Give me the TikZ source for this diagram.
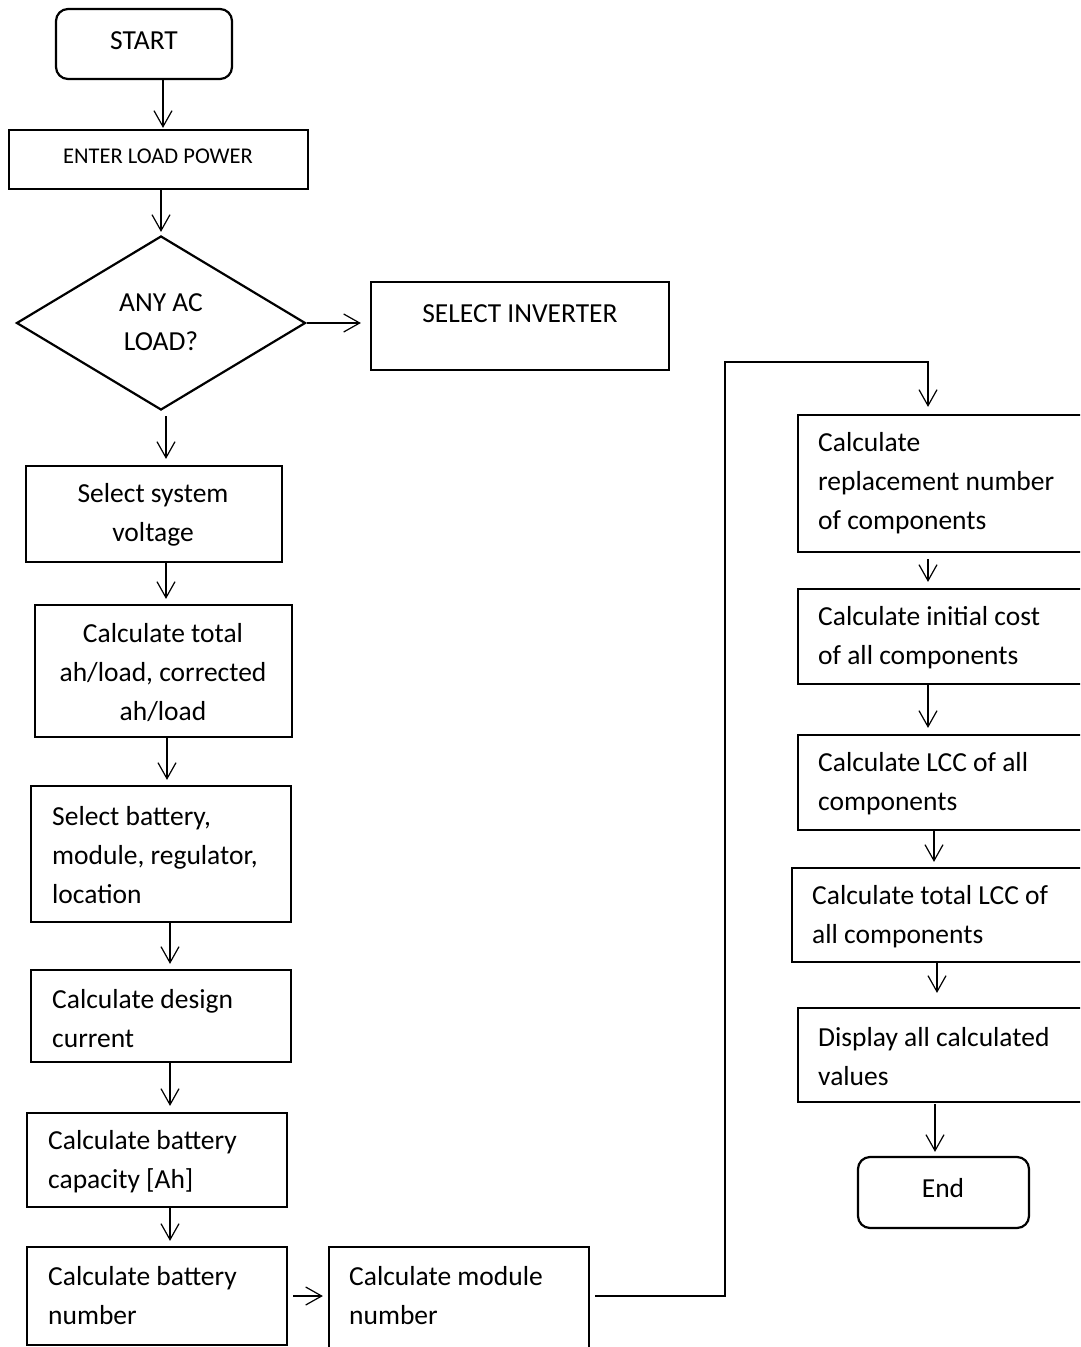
\documentclass[tikz,border=0pt]{standalone}
\usepackage{fontspec}
\setmainfont{Carlito}
\usetikzlibrary{arrows.meta,shapes.geometric}
\tikzset{
  box/.style={draw, line width=2.2pt, inner sep=0pt},
  term/.style={box, rounded corners=12pt},
  txt/.style={inner sep=0pt, font={\fontsize{27.5}{39}\selectfont}},
  ltxt/.style={txt, anchor=west, align=left},
  ctxt/.style={txt, align=center},
  arr/.style={draw, line width=1.2pt, -{Straight Barb[length=16pt,width=18pt]}}
}
\begin{document}
\begin{tikzpicture}[x=1pt,y=-1pt]
\useasboundingbox (0,0) rectangle (1080,1347);
\clip (0,0) rectangle (1080,1347);
% left column
\node[term, minimum width=176, minimum height=70] (start) at (144,44) {};
\node[ctxt] (tstart) at (144,41) {START};
\node[box, minimum width=299, minimum height=59] (enter) at (158.5,159.5) {};
\node[txt, font={\fontsize{22.5}{30}\selectfont}] (tenter) at (158,156) {ENTER LOAD POWER};
\node[draw, line width=2.2pt, shape=diamond, inner sep=0pt, minimum width=289, minimum height=174] (dia) at (161,323) {};
\node[ctxt] (tdia) at (161,322) {ANY AC\\LOAD?};
\node[box, minimum width=298, minimum height=88] (inv) at (520,326) {};
\node[ctxt] (tinv) at (520,314) {SELECT INVERTER};
\node[box, minimum width=256, minimum height=96] (ssv) at (154,514) {};
\node[ctxt] (tssv) at (153,515) {Select system\\voltage};
\node[box, minimum width=257, minimum height=132] (ctot) at (163.5,671) {};
\node[ctxt] (tctot) at (163,673) {Calculate total\\ah/load, corrected\\ah/load};
\node[box, minimum width=260, minimum height=136] (sbat) at (161,854) {};
\node[ltxt] (tsbat) at (52,855) {Select battery,\\module, regulator,\\location};
\node[box, minimum width=260, minimum height=92] (cdc) at (161,1016) {};
\node[ltxt] (tcdc) at (52,1019) {Calculate design\\current};
\node[box, minimum width=260, minimum height=94] (cbc) at (157,1160) {};
\node[ltxt] (tcbc) at (48,1162) {Calculate battery\\capacity [Ah]};
\node[box, minimum width=260, minimum height=98] (cbn) at (157,1296) {};
\node[ltxt] (tcbn) at (48,1296) {Calculate battery\\number};
\node[box, minimum width=260, minimum height=113] (cmn) at (459,1303.5) {};
\node[ltxt] (tcmn) at (349,1296) {Calculate module\\number};
% right column
\node[box, minimum width=297, minimum height=137] (rep) at (946.5,483.5) {};
\node[ltxt] (trep) at (818,483) {Calculate\\replacement number\\of components};
\node[box, minimum width=297, minimum height=95] (ic) at (946.5,636.5) {};
\node[ltxt] (tic) at (818,638) {Calculate initial cost\\of all components};
\node[box, minimum width=297, minimum height=95] (lcc) at (946.5,782.5) {};
\node[ltxt] (tlcc) at (818,784) {Calculate LCC of all\\components};
\node[box, minimum width=303, minimum height=94] (tot) at (943.5,915) {};
\node[ltxt] (ttot) at (812,917) {Calculate total LCC of\\all components};
\node[box, minimum width=297, minimum height=94] (disp) at (946.5,1055) {};
\node[ltxt] (tdisp) at (818,1057) {Display all calculated\\values};
\node[term, minimum width=171, minimum height=71] (end) at (943.5,1192.5) {};
\node[ctxt] (tend) at (943,1188) {End};
% connectors
\draw[arr, shorten >=1] ([xshift=19]start.south) -- ([xshift=4.5]enter.north);
\draw[arr, shorten >=3] ([xshift=2.5]enter.south) -- (dia.north);
\draw[arr, shorten >=9] (dia.east) -- (inv.west |- dia.east);
\draw[arr, shorten <=5, shorten >=6] ([xshift=5]dia.south) -- ([xshift=12]ssv.north);
\draw[arr, shorten >=5] ([xshift=12]ssv.south) -- ([xshift=2.5]ctot.north);
\draw[arr, shorten >=5] ([xshift=3.5]ctot.south) -- ([xshift=6]sbat.north);
\draw[arr, shorten >=5] ([xshift=9]sbat.south) -- ([xshift=9]cdc.north);
\draw[arr, shorten >=6] ([xshift=9]cdc.south) -- ([xshift=13]cbc.north);
\draw[arr, shorten >=5] ([xshift=13]cbc.south) -- ([xshift=13]cbn.north);
\draw[arr, shorten <=5, shorten >=5] (cbn.east) -- (cmn.west |- cbn.east);
\coordinate (k1) at (725,1296);
\coordinate (k2) at (725,362);
\coordinate (k3) at (928,362);
\draw[arr, shorten <=5, shorten >=7] (cmn.east |- cbn.east) -- (k1) -- (k2) -- (k3) -- ([xshift=-18.5]rep.north);
\draw[arr, shorten <=6, shorten >=6] ([xshift=-18.5]rep.south) -- ([xshift=-18.5]ic.north);
\draw[arr, shorten >=6] ([xshift=-18.5]ic.south) -- ([xshift=-18.5]lcc.north);
\draw[arr, shorten >=5] ([xshift=-12.5]lcc.south) -- ([xshift=-9.5]tot.north);
\draw[arr, shorten >=14] ([xshift=-6.5]tot.south) -- ([xshift=-9.5]disp.north);
\draw[arr, shorten <=1, shorten >=4] ([xshift=-11.5]disp.south) -- ([xshift=-8.5]end.north);
\end{tikzpicture}
\end{document}
